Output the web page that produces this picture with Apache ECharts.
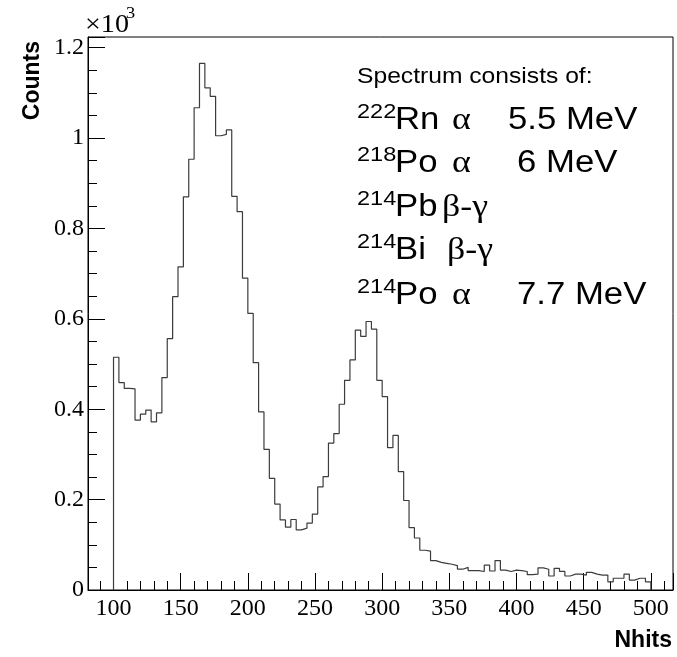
<!DOCTYPE html>
<html>
<head>
<meta charset="utf-8">
<script src="https://cdn.jsdelivr.net/npm/echarts@6/dist/echarts.min.js"></script>
<style>
html,body{margin:0;padding:0;background:#fff;}
#chart{width:677px;height:657px;}
</style>
</head>
<body>
<div id="chart"></div>
<script>
// ---- data ----
const binStart = 100;
const binWidth = 4;
const counts = [
  515, 459, 446, 445, 376, 389, 398, 372, 392, 470,
  556, 649, 715, 870, 953, 1067, 1165, 1111, 1092, 1005,
  1008, 1018, 871, 837, 690, 612, 503, 394, 311, 247,
  190, 155, 139, 156, 133, 137, 148, 168, 228, 251,
  325, 346, 411, 464, 509, 575, 561, 594, 577, 464,
  428, 315, 342, 262, 198, 138, 115, 88, 86, 65,
  61, 59, 57, 54, 46, 50, 43, 43, 41, 55,
  42, 65, 44, 41, 44, 43, 41, 34, 35, 49,
  46, 31, 48, 41, 31, 35, 35, 33, 39, 35,
  33, 33, 18, 26, 26, 35, 22, 26, 26, 18
];
const xAxisTitle = 'Nhits';
const yAxisTitle = 'Counts';
const yScaleNote = ['×10', '3'];
const annotationTitle = 'Spectrum consists of:';
const massNumbers = ['222', '218', '214', '214', '214'];
const elements = ['Rn', 'Po', 'Pb', 'Bi', 'Po'];
const decays = ['α', 'α', 'β-γ', 'β-γ', 'α'];
const energies = ['5.5 MeV', '6 MeV', '', '', '7.7 MeV'];

// ---- build step outline from bins ----
const stepPoints = [[binStart, 0]];
counts.forEach((c, i) => {
  const lo = binStart + i * binWidth;
  stepPoints.push([lo, c], [lo + binWidth, c]);
});
stepPoints.push([binStart + counts.length * binWidth, 0]);

// ---- annotation layout ----
const SX = 1.12;
const sans = 'Liberation Sans';
const serif = 'Liberation Serif';
const graphics = [];
function txt(x, y, text, size, font, align, weight, sx) {
  graphics.push({
    type: 'text', x: x, y: y, scaleX: sx || SX, originX: 0, originY: 0,
    style: { text: text, fontSize: size, fontFamily: font, fontWeight: weight || 'normal',
             fill: '#000', align: align || 'left', verticalAlign: 'middle' },
    z: 100
  });
}
// title line
txt(357, 85 - 0.36 * 22, annotationTitle, 22, sans);
const baselines = [131.7, 175, 218.3, 261.7, 306.7];
const decayX = [452, 452, 442, 447, 452];
const energyX = [508, 517, 0, 0, 517];
for (let i = 0; i < elements.length; i++) {
  const b = baselines[i];
  txt(357, b - 19.5, massNumbers[i], 21, sans);
  txt(395, b - 0.36 * 31, elements[i], 31, sans);
  txt(decayX[i], b - 0.36 * 31, decays[i], 32, serif);
  if (energies[i]) txt(energyX[i], b - 0.36 * 31, energies[i], 31, sans);
}
// axis titles
graphics.push({
  type: 'text', x: 33, y: 41, rotation: Math.PI / 2,
  style: { text: yAxisTitle, fontSize: 23, fontWeight: 'bold', fontFamily: sans, fill: '#000',
           align: 'right', verticalAlign: 'middle' }
});
graphics.push({
  type: 'text', x: 672, y: 641,
  style: { text: xAxisTitle, fontSize: 23, fontWeight: 'bold', fontFamily: sans, fill: '#000',
           align: 'right', verticalAlign: 'middle' }
});
txt(85, 25, yScaleNote[0], 26, serif, 'left', 'normal', 1.08);
txt(126, 14, yScaleNote[1], 17, serif, 'left', 'normal', 1.08);

const chart = echarts.init(document.getElementById('chart'), null, { renderer: 'canvas' });
chart.setOption({
  animation: false,
  backgroundColor: '#fff',
  grid: { left: 88, right: 4, top: 37, bottom: 67, show: true, borderColor: '#000', borderWidth: 1, containLabel: false },
  xAxis: {
    type: 'value', min: 81, max: 516.5, splitNumber: 8,
    axisLine: { show: true, onZero: false, lineStyle: { color: '#000', width: 1 } },
    axisTick: { show: true, inside: true, length: 17, lineStyle: { color: '#000', width: 1 } },
    minorTick: { show: true, splitNumber: 5, length: 9, lineStyle: { color: '#000', width: 1 } },
    splitLine: { show: false },
    axisLabel: { fontFamily: serif, fontSize: 24, color: '#000', margin: 7, showMinLabel: false, showMaxLabel: false }
  },
  yAxis: {
    type: 'value', min: 0, max: 1223.5, interval: 200,
    axisLine: { show: true, lineStyle: { color: '#000', width: 1 } },
    axisTick: { show: true, inside: true, length: 17, lineStyle: { color: '#000', width: 1 } },
    minorTick: { show: true, splitNumber: 4, length: 9, lineStyle: { color: '#000', width: 1 } },
    splitLine: { show: false },
    axisLabel: { fontFamily: serif, fontSize: 24, color: '#000', margin: 4, showMaxLabel: false,
                 formatter: v => (v === 0 ? '0' : String(v / 1000)) }
  },
  series: [{
    type: 'line', data: stepPoints, showSymbol: false, symbol: 'none',
    lineStyle: { color: '#3c3c3c', width: 1.2 }, clip: true
  }],
  graphic: graphics
});
</script>
</body>
</html>
